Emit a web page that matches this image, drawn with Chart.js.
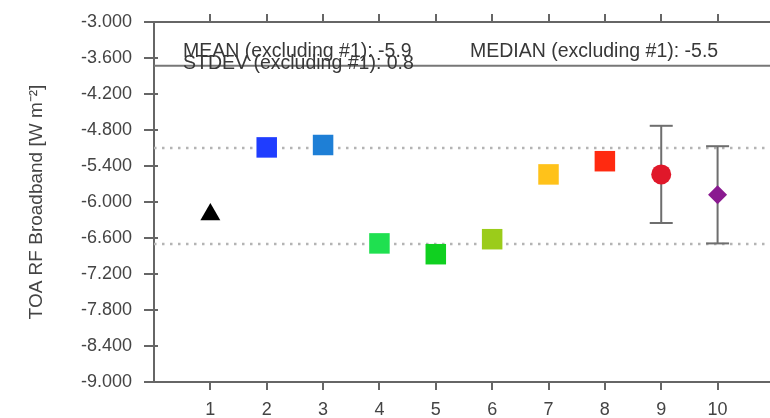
<!DOCTYPE html>
<html>
<head>
<meta charset="utf-8">
<script src="https://cdn.jsdelivr.net/npm/chart.js@4.4.1/dist/chart.umd.min.js"></script>
<style>
html,body{margin:0;padding:0;background:#fff;}
#c{display:block;}
</style>
</head>
<body>
<canvas id="c" width="770" height="418"></canvas>
<script>
// ---- data ----
const categories = [1, 2, 3, 4, 5, 6, 7, 8, 9, 10];
const values = [-6.21, -5.09, -5.05, -6.69, -6.87, -6.62, -5.54, -5.32, -5.54, -5.88];
const errHigh = [null, null, null, null, null, null, null, null, -4.73, -5.07];
const errLow  = [null, null, null, null, null, null, null, null, -6.35, -6.69];
const yTickValues = [-3.0, -3.6, -4.2, -4.8, -5.4, -6.0, -6.6, -7.2, -7.8, -8.4, -9.0];
const meanExcl1 = -5.9;
const stdevExcl1 = 0.8;
const medianExcl1 = -5.5;
const headerLineY = -3.73;
const xRange = [0, 10.93];

// ---- styles ----
const markerColors = ['#000000', '#1f3dff', '#1e7fd6', '#1fe050', '#10d020', '#9bcc1a', '#ffc21a', '#ff2a10', '#e0182a', '#8a1a90'];
const markerStyles = ['triangle', 'rect', 'rect', 'rect', 'rect', 'rect', 'rect', 'rect', 'circle', 'rectRot'];
const markerRadius = [11.5, 14.5, 14.5, 14.5, 14.5, 14.5, 14.5, 14.5, 10, 9.5];

const datasets = [];
datasets.push({
  label: 'models',
  data: categories.map((c, i) => ({x: c, y: values[i]})),
  pointStyle: markerStyles,
  pointRadius: markerRadius,
  pointBackgroundColor: markerColors,
  pointBorderColor: markerColors,
  pointBorderWidth: 0,
  showLine: false
});
categories.forEach((c, i) => {
  if (errHigh[i] === null) return;
  datasets.push({
    label: 'err' + c,
    data: [{x: c, y: errHigh[i]}, {x: c, y: errLow[i]}],
    showLine: true,
    borderColor: '#6e6e6e',
    borderWidth: 2,
    pointStyle: 'line',
    pointRadius: 11.5,
    pointBorderColor: '#6e6e6e',
    pointBorderWidth: 2
  });
});
[meanExcl1 + stdevExcl1, meanExcl1 - stdevExcl1].forEach((v, k) => {
  datasets.push({
    label: 'band' + k,
    data: [{x: xRange[0], y: v}, {x: xRange[1], y: v}],
    showLine: true,
    borderColor: '#b4b4b4',
    borderWidth: 2.5,
    borderDash: [2.5, 5.5],
    pointRadius: 0
  });
});
datasets.push({
  label: 'header',
  data: [{x: xRange[0], y: headerLineY}, {x: xRange[1], y: headerLineY}],
  showLine: true,
  borderColor: '#777777',
  borderWidth: 2,
  pointRadius: 0
});

const textPlugin = {
  id: 'texts',
  afterDraw(chart) {
    const ctx = chart.ctx;
    const a = chart.chartArea;
    const y = chart.scales.y;
    ctx.save();
    ctx.strokeStyle = '#666';
    ctx.lineWidth = 2;
    yTickValues.forEach(v => {
      const py = Math.round(y.getPixelForValue(v));
      ctx.beginPath();
      ctx.moveTo(a.left, py);
      ctx.lineTo(a.left + 4, py);
      ctx.stroke();
    });
    ctx.fillStyle = '#383838';
    ctx.font = '19.5px "Liberation Sans", Arial, sans-serif';
    ctx.textBaseline = 'alphabetic';
    ctx.textAlign = 'left';
    ctx.fillText('MEAN (excluding #1): ' + meanExcl1.toFixed(1), a.left + 29, 57);
    ctx.fillText('STDEV (excluding #1): ' + stdevExcl1.toFixed(1), a.left + 29, 69);
    ctx.fillText('MEDIAN (excluding #1): ' + medianExcl1.toFixed(1), a.left + 316, 57);
    ctx.restore();
  }
};

const noPad = s => { s.paddingLeft = 0; s.paddingRight = 0; };

new Chart(document.getElementById('c'), {
  type: 'scatter',
  data: {datasets},
  options: {
    responsive: false,
    animation: false,
    layout: {padding: 0, autoPadding: false},
    plugins: {legend: {display: false}, tooltip: {enabled: false}},
    scales: {
      x: {
        type: 'linear',
        position: 'bottom',
        min: xRange[0], max: xRange[1],
        afterBuildTicks: s => { s.ticks = categories.map(v => ({value: v})); },
        afterFit: s => { s.height = 36; noPad(s); },
        grid: {drawOnChartArea: false, drawTicks: true, tickLength: 8, color: '#666', lineWidth: 2},
        border: {display: true, color: '#666', width: 2},
        ticks: {font: {family: '"Liberation Sans", Arial, sans-serif', size: 18}, color: '#444', padding: 9, maxRotation: 0}
      },
      xTop: {
        type: 'linear',
        position: 'top',
        min: xRange[0], max: xRange[1],
        afterBuildTicks: s => { s.ticks = categories.map(v => ({value: v})); },
        afterFit: s => { s.height = 22; noPad(s); },
        grid: {drawOnChartArea: false, drawTicks: true, tickLength: 8, color: '#666', lineWidth: 2},
        border: {display: true, color: '#666', width: 2},
        ticks: {display: false}
      },
      y: {
        type: 'linear',
        min: -9, max: -3,
        afterBuildTicks: s => { s.ticks = yTickValues.map(v => ({value: v})); },
        afterFit: s => { s.width = 154; s.paddingTop = 0; s.paddingBottom = 0; },
        grid: {drawOnChartArea: false, drawTicks: true, tickLength: 10, color: '#666', lineWidth: 2},
        border: {display: true, color: '#666', width: 2},
        ticks: {
          font: {family: '"Liberation Sans", Arial, sans-serif', size: 18},
          color: '#444',
          padding: 12,
          callback: v => Number(v).toFixed(3)
        },
        title: {
          display: true,
          text: 'TOA RF Broadband [W m\u207B\u00B2]',
          font: {family: '"Liberation Sans", Arial, sans-serif', size: 19},
          color: '#444',
          padding: {top: 25, bottom: 0}
        }
      }
    }
  },
  plugins: [textPlugin]
});
</script>
</body>
</html>
